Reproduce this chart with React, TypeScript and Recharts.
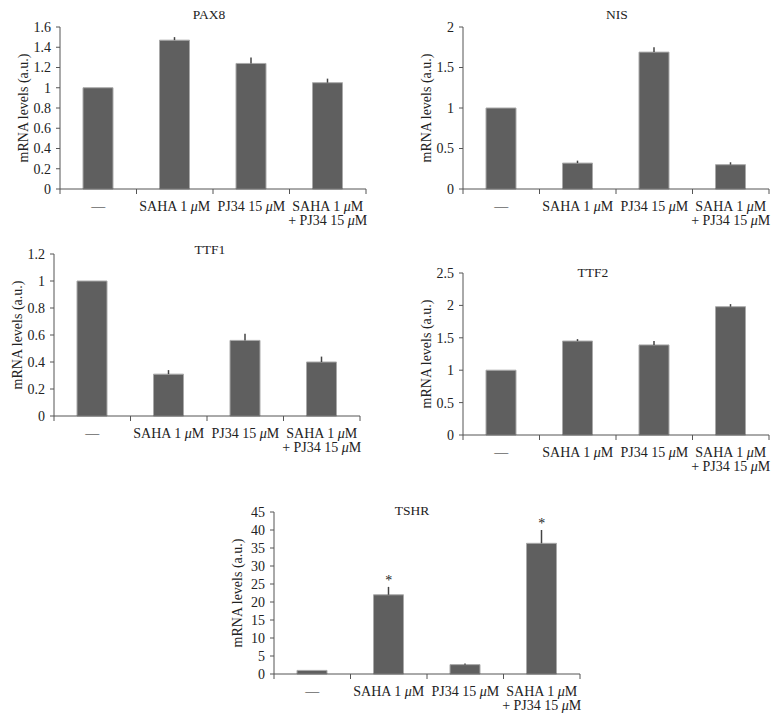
import { ComposedChart, Bar, XAxis, YAxis, ErrorBar, Scatter } from 'recharts'

const categories = ['—', 'SAHA 1 μM', 'PJ34 15 μM', 'SAHA 1 μM + PJ34 15 μM']

const pax8Values = [1, 1.47, 1.24, 1.05]
const pax8Errors = [0, 0.03, 0.06, 0.04]
const pax8Ticks = [0, 0.2, 0.4, 0.6, 0.8, 1, 1.2, 1.4, 1.6]

const nisValues = [1, 0.32, 1.69, 0.3]
const nisErrors = [0, 0.03, 0.06, 0.03]
const nisTicks = [0, 0.5, 1, 1.5, 2]

const ttf1Values = [1, 0.31, 0.56, 0.4]
const ttf1Errors = [0, 0.03, 0.05, 0.04]
const ttf1Ticks = [0, 0.2, 0.4, 0.6, 0.8, 1, 1.2]

const ttf2Values = [1, 1.45, 1.39, 1.98]
const ttf2Errors = [0, 0.03, 0.06, 0.04]
const ttf2Ticks = [0, 0.5, 1, 1.5, 2, 2.5]

const tshrValues = [1, 22, 2.6, 36.3]
const tshrErrors = [0, 2.2, 0.3, 3.7]
const tshrTicks = [0, 5, 10, 15, 20, 25, 30, 35, 40, 45]
const tshrStars = [false, true, false, true]

const FONT = "'Liberation Serif', 'Times New Roman', serif"
const TEXT = '#222'
const AXIS = '#555'
const PLOT_W = 306
const PLOT_H = 162
const LEFT = 45
const TOP = 25
const RIGHT = 10
const XH = 50
const STEP = PLOT_W / categories.length
const FS = 14

function MuText({ text }: { text: string }) {
  const parts = text.split('μ')
  return (
    <>
      {parts.map((p, i) => (
        <tspan key={i}>
          {i > 0 && <tspan fontStyle="italic">μ</tspan>}
          {p}
        </tspan>
      ))}
    </>
  )
}

function CatTick(props: any) {
  const { x, y, payload, index } = props
  const lines = String(payload.value).split(' + ')
  return (
    <g>
      <line x1={x - STEP / 2} x2={x - STEP / 2} y1={y} y2={y + 5} stroke={AXIS} />
      {index === categories.length - 1 && (
        <line x1={x + STEP / 2} x2={x + STEP / 2} y1={y} y2={y + 5} stroke={AXIS} />
      )}
      <text x={x} y={y + 22} textAnchor="middle" fontSize={FS} fontFamily={FONT} fill={TEXT}>
        <MuText text={lines[0]} />
      </text>
      {lines[1] && (
        <text x={x} y={y + 36} textAnchor="middle" fontSize={FS} fontFamily={FONT} fill={TEXT}>
          <MuText text={'+ ' + lines[1]} />
        </text>
      )}
    </g>
  )
}

function YLabel(props: any) {
  const { viewBox } = props
  const cx = viewBox.x + 8
  const cy = viewBox.y + viewBox.height / 2
  return (
    <text
      x={cx}
      y={cy}
      transform={`rotate(-90 ${cx} ${cy})`}
      textAnchor="middle"
      dominantBaseline="central"
      fontSize={FS}
      fontFamily={FONT}
      fill={TEXT}
    >
      mRNA levels (a.u.)
    </text>
  )
}

function Star(props: any) {
  const { cx, cy, payload } = props
  if (payload.star == null) return <g />
  return (
    <text x={cx} y={cy - 2} textAnchor="middle" fontSize={FS} fontFamily={FONT} fill={TEXT}>
      *
    </text>
  )
}

type PanelProps = {
  title: string
  values: number[]
  errors: number[]
  ticks: number[]
  stars?: boolean[]
  plotLeft: number
  plotTop: number
  titleX: number
  titleY: number
}

function Panel({ title, values, errors, ticks, stars, plotLeft, plotTop, titleX, titleY }: PanelProps) {
  const data = categories.map((name, i) => ({
    name,
    value: values[i],
    err: [0, errors[i]],
    star: stars && stars[i] ? values[i] + errors[i] : null,
  }))
  const max = ticks[ticks.length - 1]
  return (
    <>
      <div
        style={{
          position: 'absolute',
          left: titleX,
          top: titleY,
          transform: 'translate(-50%, -50%)',
          fontFamily: FONT,
          fontSize: 13.5,
          color: TEXT,
          whiteSpace: 'nowrap',
        }}
      >
        {title}
      </div>
      <div style={{ position: 'absolute', left: plotLeft - LEFT, top: plotTop - TOP }}>
        <ComposedChart
          width={LEFT + PLOT_W + RIGHT}
          height={TOP + PLOT_H + XH}
          data={data}
          margin={{ top: TOP, right: RIGHT, left: 0, bottom: 0 }}
        >
          <XAxis
            dataKey="name"
            height={XH}
            interval={0}
            tickSize={0}
            tickMargin={0}
            tickLine={false}
            axisLine={{ stroke: AXIS }}
            tick={<CatTick />}
          />
          <YAxis
            width={LEFT}
            domain={[0, max]}
            ticks={ticks}
            interval={0}
            tickSize={4}
            tickMargin={5}
            tickLine={{ stroke: AXIS }}
            axisLine={{ stroke: AXIS }}
            tick={{ fill: TEXT, fontSize: FS, fontFamily: FONT }}
            label={<YLabel />}
          />
          <Bar dataKey="value" barSize={30} fill="#5f5f5f" stroke="#a9a9a9" strokeWidth={1} isAnimationActive={false}>
            <ErrorBar dataKey="err" direction="y" width={0} stroke="#444" strokeWidth={1.5} />
          </Bar>
          {stars && <Scatter dataKey="star" shape={<Star />} isAnimationActive={false} />}
        </ComposedChart>
      </div>
    </>
  )
}

export default function App() {
  return (
    <div style={{ position: 'absolute', left: 0, top: 0, width: 777, height: 723, background: '#fff', overflow: 'hidden' }}>
      <Panel title="PAX8" values={pax8Values} errors={pax8Errors} ticks={pax8Ticks} plotLeft={60} plotTop={27} titleX={209} titleY={15} />
      <Panel title="NIS" values={nisValues} errors={nisErrors} ticks={nisTicks} plotLeft={463} plotTop={27} titleX={617} titleY={15} />
      <Panel title="TTF1" values={ttf1Values} errors={ttf1Errors} ticks={ttf1Ticks} plotLeft={54} plotTop={254} titleX={210} titleY={250} />
      <Panel title="TTF2" values={ttf2Values} errors={ttf2Errors} ticks={ttf2Ticks} plotLeft={463} plotTop={273} titleX={593} titleY={273} />
      <Panel title="TSHR" values={tshrValues} errors={tshrErrors} ticks={tshrTicks} stars={tshrStars} plotLeft={274} plotTop={512} titleX={412} titleY={511} />
    </div>
  )
}
